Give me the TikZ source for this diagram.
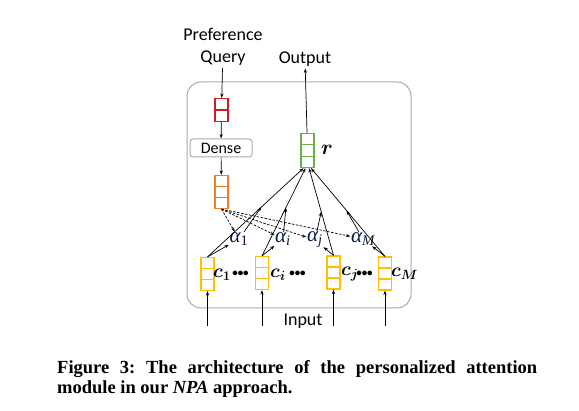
\RequirePackage{fix-cm}
\documentclass[tikz,border=0pt]{standalone}
\usepackage{amsmath}
\usepackage{bm}
\usepackage[no-math]{fontspec}
\setmainfont{Liberation Serif}
\newfontfamily\diagfont{Carlito}
\usetikzlibrary{calc,arrows.meta}
\definecolor{qred}{RGB}{200,30,40}
\definecolor{dorange}{RGB}{237,125,49}
\definecolor{rgreen}{RGB}{112,173,71}
\definecolor{cyellow}{RGB}{255,192,0}
\definecolor{framegray}{RGB}{170,170,170}
\definecolor{alphablue}{RGB}{10,25,70}
\begin{document}
\begin{tikzpicture}[x=1pt,y=-1pt,
  cellsthree/.style={draw=#1, line width=1.2pt, minimum width=13pt, minimum height=33pt, inner sep=0pt,
    path picture={\draw[#1, line width=1.2pt]
      ($(path picture bounding box.north west)!1/3!(path picture bounding box.south west)$) --
      ($(path picture bounding box.north east)!1/3!(path picture bounding box.south east)$)
      ($(path picture bounding box.north west)!2/3!(path picture bounding box.south west)$) --
      ($(path picture bounding box.north east)!2/3!(path picture bounding box.south east)$);}},
  cellstwo/.style={draw=#1, line width=1.2pt, minimum width=13pt, minimum height=23pt, inner sep=0pt,
    path picture={\draw[#1, line width=1.2pt]
      ($(path picture bounding box.north west)!1/2!(path picture bounding box.south west)$) --
      ($(path picture bounding box.north east)!1/2!(path picture bounding box.south east)$);}},
  txt/.style={font=\diagfont\fontsize{18}{22}\selectfont, inner sep=2pt},
  mlab/.style={font=\fontsize{19}{22}\selectfont, inner sep=1pt},
  alab/.style={font=\itshape\fontsize{21}{24}\selectfont, inner sep=0.5pt, text=alphablue},
  arr/.style={-{Stealth[length=4.5pt,width=3.2pt]}, line width=0.7pt, black},
  darr/.style={arr, dashed, dash pattern=on 2.5pt off 1.5pt},
  dotsty/.style={font=\diagfont\bfseries\fontsize{11}{11}\selectfont, inner sep=0pt},
]
\useasboundingbox (0,0) rectangle (579,411);
% frame
\node[draw=framegray, line width=1pt, rounded corners=14pt, minimum width=224pt, minimum height=226pt, inner sep=0pt] (frame) at (299,195) {};
% texts
\node[txt, align=center] (query) at (223,47) {Preference\\Query};
\node[txt] (output) at (305,59) {Output};
\node[txt] (input) at (303,321) {Input};
% boxes
\node[cellstwo=qred] (red) at (221.5,110) {};
\node[draw=framegray, line width=1pt, rounded corners=3pt, minimum width=62pt, minimum height=18pt, inner sep=0pt,
      font=\diagfont\fontsize{16}{18}\selectfont] (dense) at (221,148) {Dense};
\node[cellsthree=dorange] (orange) at (221.5,192) {};
\node[cellsthree=rgreen, minimum height=34pt] (r) at (307.5,150.5) {};
\node[mlab, font=\fontsize{21}{22}\selectfont] (rlab) at (327,150) {$\bm{r}$};
\node[cellsthree=cyellow] (c1) at (207.5,274) {};
\node[cellsthree=cyellow] (ci) at (262,273) {};
\node[cellsthree=cyellow] (cj) at (333.5,272.5) {};
\node[cellsthree=cyellow] (cM) at (385,273.5) {};
% c labels
\node[mlab, anchor=west] (lc1) at (212,275) {$\bm{c_1}$};
\node[mlab, anchor=west] (lci) at (269,275) {$\bm{c_i}$};
\node[mlab, anchor=west] (lcj) at (340,274) {$\bm{c_j}$};
\node[mlab, anchor=west] (lcM) at (390,274) {$\bm{c_M}$};
\node[dotsty] (d1) at (240.5,274) {•••};
\node[dotsty] (di) at (297.5,274) {•••};
\node[dotsty] (dj) at (364.5,274) {•••};
% alpha labels
\node[alab] (a1) at (239,239) {α\textsubscript{\upshape 1}};
\node[alab] (ai) at (283,239) {α\textsubscript{i}};
\node[alab] (aj) at (315,240) {α\textsubscript{j}};
\node[alab] (aM) at (363,239) {α\textsubscript{M}};
% vertical flow
\draw[arr] (query) -- (red);
\draw[arr] (red) -- (dense);
\draw[arr] (dense) -- (orange);
\draw[arr] (r) -- (output);
% c -> r
\draw[arr] (c1.north) -- ([xshift=-4pt]r.south);
\draw[arr] (ci.north) -- ([xshift=-2pt]r.south);
\draw[arr] (cj.north) -- ([xshift=1.5pt]r.south);
\draw[arr] (cM.north) -- ([xshift=3.5pt]r.south);
% c -> alpha
\draw[arr] (c1.north) -- (a1);
\draw[arr] (ci.north) -- (ai);
\draw[arr] (cj.north) -- (aj);
\draw[arr] (cM.north) -- (aM);
% alpha -> weighted line
\draw[arr] (a1) -- ($(c1.north)!0.56!([xshift=-4pt]r.south)$);
\draw[arr] (ai) -- ($(ci.north)!0.55!([xshift=-2pt]r.south)$);
\draw[arr] (aj) -- ($(cj.north)!0.5!([xshift=1.5pt]r.south)$);
\draw[arr] (aM) -- ($(cM.north)!0.52!([xshift=3.5pt]r.south)$);
% query -> alpha (dashed)
\draw[darr] (orange.south) -- (a1);
\draw[darr] (orange.south) -- (ai);
\draw[darr] (orange.south) -- (aj);
\draw[darr] (orange.south) -- (aM);
% inputs
\coordinate (in1) at (207.5,326);
\coordinate (ini) at (262,326);
\coordinate (inj) at (333.5,326);
\coordinate (inM) at (385,326);
\draw[arr] (in1) -- (c1.south);
\draw[arr] (ini) -- (ci.south);
\draw[arr] (inj) -- (cj.south);
\draw[arr] (inM) -- (cM.south);
% caption
\node[anchor=north west, text width=480pt, align=justify, inner sep=0pt,
      font=\bfseries\fontsize{18.5}{20}\selectfont\frenchspacing] (caption) at (57,360)
  {Figure 3: The architecture of the personalized attention\linebreak module in our \textit{NPA} approach.};
\end{tikzpicture}
\end{document}
